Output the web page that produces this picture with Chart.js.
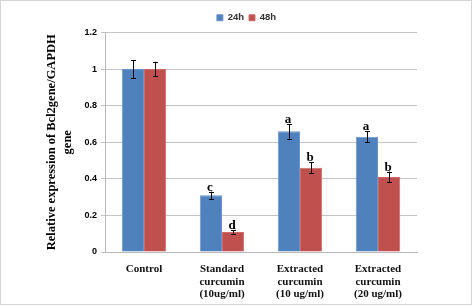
<!DOCTYPE html>
<html>
<head>
<meta charset="utf-8">
<script src="https://cdn.jsdelivr.net/npm/chart.js@4.4.0/dist/chart.umd.min.js"></script>
<style>
html,body{margin:0;padding:0;background:#fff;}
#wrap{width:474px;height:306px;}
</style>
</head>
<body>
<div id="wrap"><canvas id="c" width="474" height="306"></canvas></div>
<script>
const categories = [
  'Control',
  ['Standard', 'curcumin', '(10ug/ml)'],
  ['Extracted', 'curcumin', '(10 ug/ml)'],
  ['Extracted', 'curcumin', '(20 ug/ml)']
];
const seriesNames = ['24h', '48h'];
const values24h = [1.00, 0.31, 0.66, 0.63];
const values48h = [1.00, 0.11, 0.46, 0.41];
const errors24h = [0.05, 0.02, 0.04, 0.03];
const errors48h = [0.04, 0.01, 0.03, 0.03];
const letters24h = ['', 'c', 'a', 'a'];
const letters48h = ['', 'd', 'b', 'b'];
const yTickLabels = ['0', '0.2', '0.4', '0.6', '0.8', '1', '1.2'];
const yTitle = ['Relative expression of Bcl2gene/GAPDH', 'gene'];

const errs = [errors24h, errors48h];
const letters = [letters24h, letters48h];

const framePlugin = {
  id: 'frame',
  beforeDraw(chart) {
    const ctx = chart.ctx;
    ctx.save();
    ctx.fillStyle = '#ffffff';
    ctx.fillRect(0, 0, chart.width, chart.height);
    ctx.strokeStyle = '#d4d4d4';
    ctx.lineWidth = 1;
    ctx.strokeRect(0.5, 0.5, chart.width - 3, chart.height - 2);
    ctx.restore();
  }
};

const errorPlugin = {
  id: 'errorbars',
  afterDatasetsDraw(chart) {
    const ctx = chart.ctx;
    const y = chart.scales.y;
    ctx.save();
    chart.data.datasets.forEach((ds, di) => {
      const meta = chart.getDatasetMeta(di);
      meta.data.forEach((bar, i) => {
        const v = ds.data[i];
        const e = errs[di][i];
        const yTop = y.getPixelForValue(v + e);
        const yBot = y.getPixelForValue(v - e);
        const x = Math.round(bar.x) + 0.5;
        ctx.strokeStyle = '#000';
        ctx.lineWidth = 1;
        ctx.beginPath();
        ctx.moveTo(x, yTop); ctx.lineTo(x, yBot);
        ctx.moveTo(x - 2.5, Math.round(yTop) + 0.5); ctx.lineTo(x + 2.5, Math.round(yTop) + 0.5);
        ctx.moveTo(x - 2.5, Math.round(yBot) + 0.5); ctx.lineTo(x + 2.5, Math.round(yBot) + 0.5);
        ctx.stroke();
        const L = letters[di][i];
        if (L) {
          ctx.fillStyle = '#000';
          ctx.font = 'bold 13px "Liberation Serif", "Times New Roman", serif';
          ctx.textAlign = 'center';
          ctx.textBaseline = 'alphabetic';
          ctx.fillText(L, bar.x - 1, yTop - 1);
        }
      });
    });
    ctx.restore();
  }
};

new Chart(document.getElementById('c'), {
  type: 'bar',
  data: {
    labels: categories,
    datasets: [
      { label: seriesNames[0], data: values24h, backgroundColor: '#4F81BD', borderColor: '#6a95cc', borderWidth: 1, yAxisID: 'y' },
      { label: seriesNames[1], data: values48h, backgroundColor: '#C0504D', borderColor: '#cf6a67', borderWidth: 1, yAxisID: 'y' }
    ]
  },
  options: {
    responsive: false,
    animation: false,
    devicePixelRatio: 1,
    layout: { padding: { left: 19, right: 0, top: 8, bottom: 0 } },
    datasets: { bar: { categoryPercentage: 0.57, barPercentage: 1.0 } },
    plugins: {
      legend: {
        position: 'top',
        labels: {
          boxWidth: 6, boxHeight: 6, padding: 5,
          color: '#333',
          font: { family: '"Liberation Sans", Arial, sans-serif', size: 9.5, weight: 'bold' }
        }
      },
      tooltip: { enabled: false }
    },
    scales: {
      x: {
        grid: { display: false, drawTicks: false },
        border: { display: true, color: '#b8b8b8', width: 1 },
        ticks: {
          color: '#111',
          padding: 11,
          maxRotation: 0,
          autoSkip: false,
          font: { family: '"Liberation Serif", "Times New Roman", serif', size: 11, weight: 'bold', lineHeight: 1.15 }
        },
        afterFit(s) { s.height = 54; }
      },
      y: {
        min: 0, max: 1.2,
        ticks: {
          stepSize: 0.2,
          padding: 4,
          color: '#000',
          font: { family: '"Liberation Sans", Arial, sans-serif', size: 9, weight: 'bold' },
          callback: (v, i) => yTickLabels[i]
        },
        grid: { color: '#c4c4c4', lineWidth: 1, tickLength: 4, drawTicks: true },
        border: { display: true, color: '#b8b8b8', width: 1 },
        title: {
          display: true,
          text: yTitle,
          color: '#000',
          padding: { top: 25, bottom: 0 },
          font: { family: '"Liberation Serif", "Times New Roman", serif', size: 12.5, weight: 'bold', lineHeight: 1.28 }
        },
        afterFit(s) { s.width = 86; }
      },
      yRight: {
        position: 'right',
        display: true,
        min: 0, max: 1,
        grid: { display: false, drawTicks: false },
        border: { display: false },
        ticks: { display: false },
        afterFit(s) { s.width = 57; }
      }
    }
  },
  plugins: [framePlugin, errorPlugin]
});
</script>
</body>
</html>
